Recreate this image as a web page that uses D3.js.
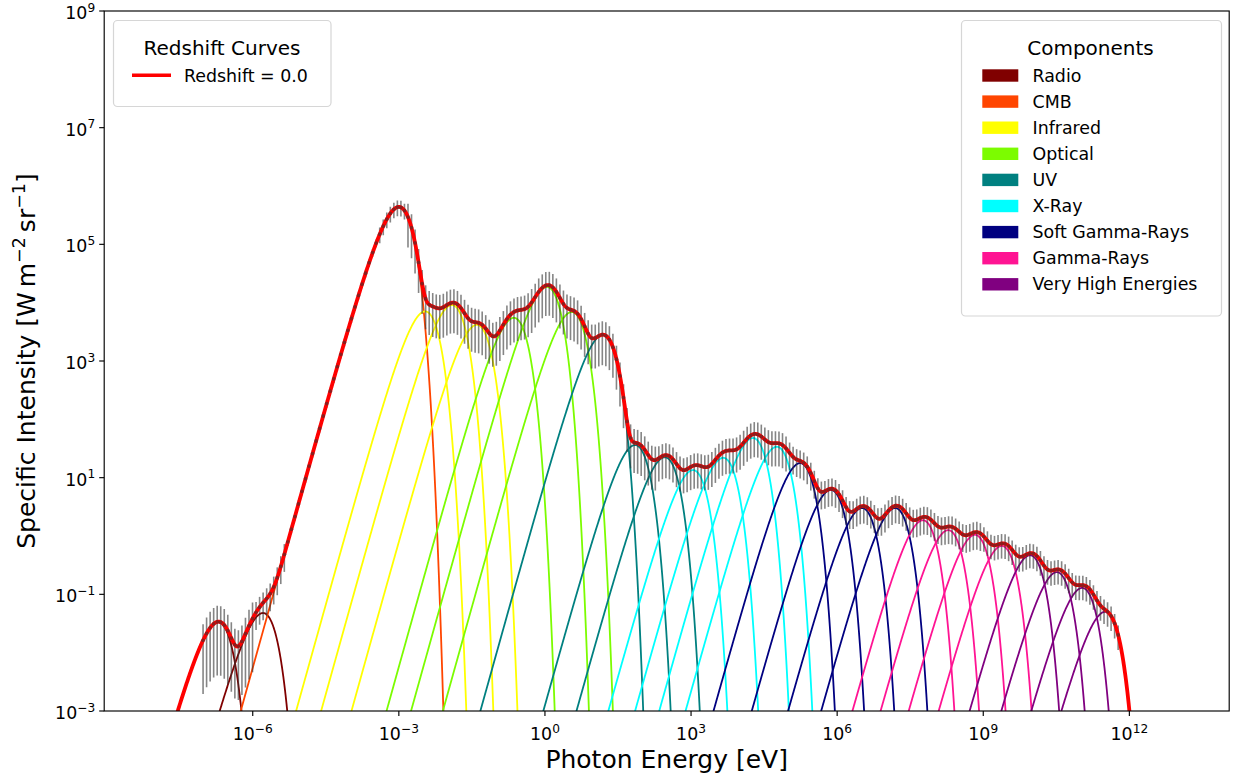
<!DOCTYPE html>
<html>
<head>
<meta charset="utf-8">
<script src="https://cdn.jsdelivr.net/npm/d3@7"></script>
<style>
  body { margin: 0; background: #fff; }
  text { font-family: "DejaVu Sans", sans-serif; fill: #000; }
</style>
</head>
<body>
<svg id="ch" width="1239" height="781"></svg>
<script>
// Spectrum components (peak energy / peak intensity, log10 units)

const groupNames = ["Radio", "CMB", "Infrared", "Optical", "UV", "X-Ray",
  "Soft Gamma-Rays", "Gamma-Rays", "Very High Energies"];
const groupColors = ["#800000", "#ff4500", "#ffff00", "#7cfc00", "#008080",
  "#00ffff", "#000080", "#ff1493", "#800080"];

const compGroup = [0, 0, 1, 2, 2, 2, 3, 3, 3, 4, 4, 4, 5, 5, 5, 5,
  6, 6, 6, 6, 7, 7, 7, 7, 8, 8, 8, 8];
const compPeakLogE = [-6.71, -5.79, -3.0, -2.46, -1.91, -1.40, -0.64, 0.04, 0.55,
  1.19, 1.85, 2.46, 3.04, 3.66, 4.27, 4.76, 5.24, 5.87, 6.51, 7.19,
  7.76, 8.28, 8.83, 9.38, 9.96, 10.51, 11.03, 11.5];
const compPeakLogI = [-1.48, -1.32, 5.64, 3.85, 3.96, 3.62, 3.74, 4.27, 3.84,
  3.45, 1.56, 1.35, 1.13, 1.34, 1.68, 1.53, 1.25, 0.79, 0.48, 0.48,
  0.27, 0.10, 0.02, -0.17, -0.33, -0.62, -0.89, -1.3];

// measured points: log energy range, count, relative error per band
const pointLogRange = [-7.02, 11.77];
const pointCount = 260;
const errEdges = [-6.0, -5.3, -3.4, -2.85, 2.3, 5.0, 9.0, 99];
const errFracs = [0.88, 0.5, 0.15, 0.3, 0.7, 0.6, 0.5, 0.45];

const xTickExp = [-6, -3, 0, 3, 6, 9, 12];
const yTickExp = [-3, -1, 1, 3, 5, 7, 9];

/* Dimensions */
const L = 104.2, R = 1229.2, T = 11, B = 711;

const svg = d3.select("#ch");

const x = d3.scaleLog().domain([10 ** -9.05, 10 ** 14.05]).range([L, R]);
const y = d3.scaleLog().domain([1e-3, 1e9]).range([B, T]);

/* component shape: E^4 / (exp(E/kT) - 1), normalised to its peak */
const X0 = 3.920690395;
const G0 = X0 ** 4 / Math.expm1(X0);
const shape = (r) => {
  let u = r * X0;
  if (u > 700) return 0;
  return u ** 4 / Math.expm1(u) / G0;
};
const compVal = (i, lE) =>
  10 ** compPeakLogI[i] * shape(10 ** (lE - compPeakLogE[i]));
const totalVal = (lE) => d3.sum(compPeakLogE, (d, i) => compVal(i, lE));

svg.append("clipPath").attr("id", "clip")
  .append("rect").attr("x", L).attr("y", T).attr("width", R - L).attr("height", B - T);

const plot = svg.append("g").attr("clip-path", "url(#clip)");

const line = d3.line()
  .x((d) => x(10 ** d[0]))
  .y((d) => y(Math.max(d[1], 1e-9)));

/* components */
compPeakLogE.forEach((p, i) => {
  let pts = d3.range(p - 4.2, p + 1.6, 0.005).map((lE) => [lE, compVal(i, lE)]);
  plot.append("path")
    .attr("d", line(pts))
    .attr("fill", "none")
    .attr("stroke", groupColors[compGroup[i]])
    .attr("stroke-width", 1.8);
});

/* points with error bars */
const errFor = (lE) => errFracs[errEdges.findIndex((e) => lE < e)];
const pts = d3.range(pointCount).map((i) => {
  let lE = pointLogRange[0] + (i * (pointLogRange[1] - pointLogRange[0])) / (pointCount - 1);
  let v = totalVal(lE);
  return { e: 10 ** lE, v: v, s: v * errFor(lE) };
});

plot.selectAll("line.eb")
  .data(pts)
  .enter()
  .append("line")
  .attr("x1", (d) => x(d.e))
  .attr("x2", (d) => x(d.e))
  .attr("y1", (d) => y(Math.max(d.v - d.s, 1e-9)))
  .attr("y2", (d) => y(d.v + d.s))
  .attr("stroke", "#333")
  .attr("stroke-opacity", 0.6)
  .attr("stroke-width", 1.6);

/* total */
let totPts = d3.range(-9.05, 14.06, 0.005).map((lE) => [lE, totalVal(lE)]);
plot.append("path")
  .attr("d", line(totPts))
  .attr("fill", "none")
  .attr("stroke", "#ff0000")
  .attr("stroke-width", 3.8);

plot.selectAll("circle")
  .data(pts)
  .enter()
  .append("circle")
  .attr("cx", (d) => x(d.e))
  .attr("cy", (d) => y(d.v))
  .attr("r", 1.9)
  .attr("fill", "#333")
  .attr("fill-opacity", 0.55);

/* Axes */
svg.append("rect")
  .attr("x", L).attr("y", T).attr("width", R - L).attr("height", B - T)
  .attr("fill", "none").attr("stroke", "#000").attr("stroke-width", 1.15);

const powLabel = (g, exp, px, py, anchor) => {
  let t = g.append("text").attr("x", px).attr("y", py)
    .attr("text-anchor", anchor).style("font-size", "17.4px");
  t.append("tspan").text("10");
  t.append("tspan").attr("dy", -7.5).style("font-size", "12.2px")
    .text(String(exp).replace("-", "\u2212"));
};

const axes = svg.append("g");
xTickExp.forEach((e) => {
  let px = x(10 ** e);
  axes.append("line").attr("x1", px).attr("x2", px).attr("y1", B).attr("y2", B + 5)
    .attr("stroke", "#000").attr("stroke-width", 1.15);
  powLabel(axes, e, px, B + 29, "middle");
});
yTickExp.forEach((e) => {
  let py = y(10 ** e);
  axes.append("line").attr("x1", L - 5).attr("x2", L).attr("y1", py).attr("y2", py)
    .attr("stroke", "#000").attr("stroke-width", 1.15);
  powLabel(axes, e, L - 9, py + 8, "end");
});

svg.append("text")
  .attr("x", (L + R) / 2).attr("y", 768)
  .attr("text-anchor", "middle")
  .style("font-size", "25px")
  .text("Photon Energy [eV]");

let yl = svg.append("text")
  .attr("transform", "translate(35," + (T + B) / 2 + ") rotate(-90)")
  .attr("text-anchor", "middle")
  .style("font-size", "25px");
yl.append("tspan").text("Specific Intensity [W\u2009m");
yl.append("tspan").attr("dy", -10).style("font-size", "17.5px").text("\u22122");
yl.append("tspan").attr("dy", 10).text("\u2009sr");
yl.append("tspan").attr("dy", -10).style("font-size", "17.5px").text("\u22121");
yl.append("tspan").attr("dy", 10).text("]");

/* Legend: redshift */
const lg1 = svg.append("g");
lg1.append("rect")
  .attr("x", 113.5).attr("y", 20.5).attr("width", 217.5).attr("height", 86)
  .attr("rx", 4).attr("fill", "#fff").attr("fill-opacity", 0.8)
  .attr("stroke", "#d6d6d6").attr("stroke-width", 1.2);
lg1.append("text").attr("x", 222).attr("y", 55).attr("text-anchor", "middle")
  .style("font-size", "20px").text("Redshift Curves");
lg1.append("line").attr("x1", 132).attr("x2", 171).attr("y1", 75.3).attr("y2", 75.3)
  .attr("stroke", "#ff0000").attr("stroke-width", 3.6);
lg1.append("text").attr("x", 184).attr("y", 81.5)
  .style("font-size", "17.4px").text("Redshift = 0.0");

/* Legend: components */
const lg2 = svg.append("g");
lg2.append("rect")
  .attr("x", 961.5).attr("y", 20.5).attr("width", 260).attr("height", 295.5)
  .attr("rx", 4).attr("fill", "#fff").attr("fill-opacity", 0.8)
  .attr("stroke", "#d6d6d6").attr("stroke-width", 1.2);
lg2.append("text").attr("x", 1090.5).attr("y", 55).attr("text-anchor", "middle")
  .style("font-size", "20px").text("Components");
groupNames.forEach((n, i) => {
  lg2.append("rect")
    .attr("x", 982.3).attr("y", 69.3 + i * 26.1).attr("width", 36).attr("height", 12.4)
    .attr("fill", groupColors[i]);
  lg2.append("text").attr("x", 1032.5).attr("y", 81.6 + i * 26.1)
    .style("font-size", "17.4px").text(n);
});
</script>
</body>
</html>
